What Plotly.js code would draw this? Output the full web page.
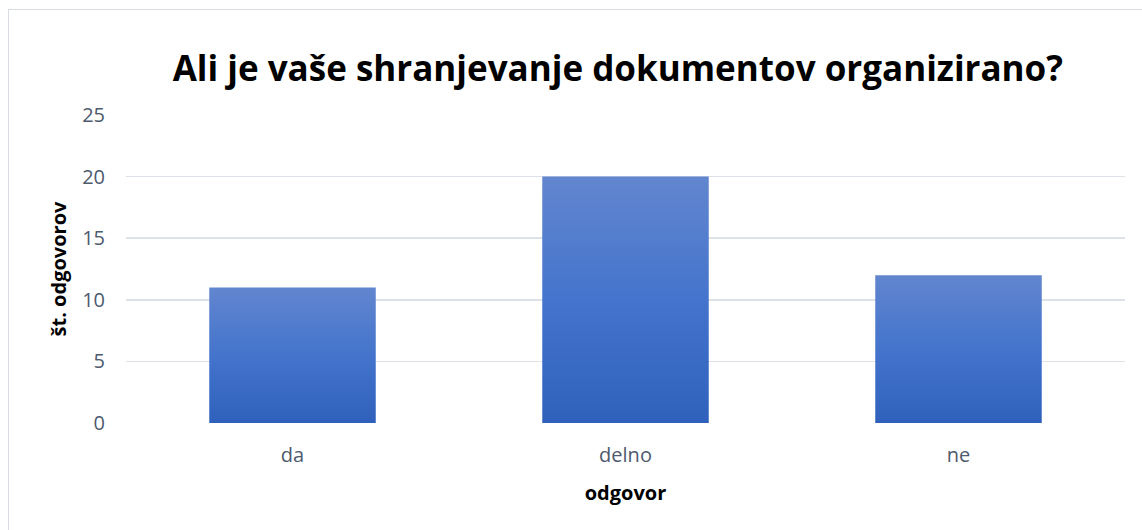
<!DOCTYPE html>
<html>
<head>
<meta charset="utf-8">
<script src="https://cdn.plot.ly/plotly-3.0.1.min.js"></script>
<style>
  html, body { margin: 0; padding: 0; background: #fff; }
  #wrap { position: relative; width: 1142px; height: 530px; overflow: hidden; }
  #chart { width: 1142px; height: 530px; }
  #frame { position: absolute; left: 8px; top: 9px; width: 1150px; height: 540px;
           border: 1px solid #d9dde3; pointer-events: none; box-sizing: border-box; }
</style>
</head>
<body>
<div id="wrap">
  <div id="chart"></div>
  <div id="frame"></div>
</div>
<script>
const categories = ["da", "delno", "ne"];
const counts = [11, 20, 12];
const yTicks = [0, 5, 10, 15, 20, 25];
const chartTitle = "Ali je vaše shranjevanje dokumentov organizirano?";
const xTitle = "odgovor";
const yTitle = "št. odgovorov";

const trace = {
  type: "bar",
  x: categories,
  y: counts,
  marker: { color: "#4472c4", line: { width: 0 } },
  width: 0.5,
  hoverinfo: "x+y"
};

const tickColor = "#4e5a6e";

const layout = {
  width: 1142,
  height: 530,
  margin: { l: 126, r: 17, t: 115, b: 107 },
  paper_bgcolor: "#ffffff",
  plot_bgcolor: "#ffffff",
  showlegend: false,
  title: {
    text: "<b>" + chartTitle + "</b>",
    font: { family: "Open Sans, sans-serif", size: 35, color: "#000000" },
    x: 0.541, xanchor: "center", y: 0.87, yanchor: "middle"
  },
  xaxis: {
    type: "category",
    tickfont: { family: "Open Sans, sans-serif", size: 20, color: tickColor },
    ticks: "", showgrid: false, showline: false, zeroline: false,
    ticklabelstandoff: 18,
    title: { text: "<b>" + xTitle + "</b>", font: { family: "Open Sans, sans-serif", size: 20, color: "#000" }, standoff: 18 }
  },
  yaxis: {
    range: [0, 25],
    tickvals: yTicks,
    tickfont: { family: "Open Sans, sans-serif", size: 20, color: tickColor },
    ticks: "", showline: false, zeroline: false,
    gridcolor: "#dde1e8", gridwidth: 1.5,
    ticklabelstandoff: 20,
    title: { text: "<b>" + yTitle + "</b>", font: { family: "Open Sans, sans-serif", size: 20, color: "#000" }, standoff: 10 }
  },
  bargap: 0.5
};

function applyGradient(gd) {
  const svg = gd.querySelector("svg.main-svg");
  if (!svg) return;
  const ns = "http://www.w3.org/2000/svg";
  let defs = svg.querySelector("defs");
  if (!defs) { defs = document.createElementNS(ns, "defs"); svg.insertBefore(defs, svg.firstChild); }
  if (!svg.querySelector("#barGrad")) {
    const lg = document.createElementNS(ns, "linearGradient");
    lg.setAttribute("id", "barGrad");
    lg.setAttribute("x1", "0"); lg.setAttribute("y1", "0");
    lg.setAttribute("x2", "0"); lg.setAttribute("y2", "1");
    [["0", "#6286cf"], ["0.5", "#4474cc"], ["1", "#2f61bc"]].forEach(([o, c]) => {
      const s = document.createElementNS(ns, "stop");
      s.setAttribute("offset", o); s.setAttribute("stop-color", c);
      lg.appendChild(s);
    });
    defs.appendChild(lg);
  }
  gd.querySelectorAll(".trace.bars .point path").forEach(p => { p.style.fill = "url(#barGrad)"; });
}

Plotly.newPlot("chart", [trace], layout, { displayModeBar: false, staticPlot: true })
  .then(gd => { applyGradient(gd); gd.on("plotly_afterplot", () => applyGradient(gd)); });
</script>
</body>
</html>
